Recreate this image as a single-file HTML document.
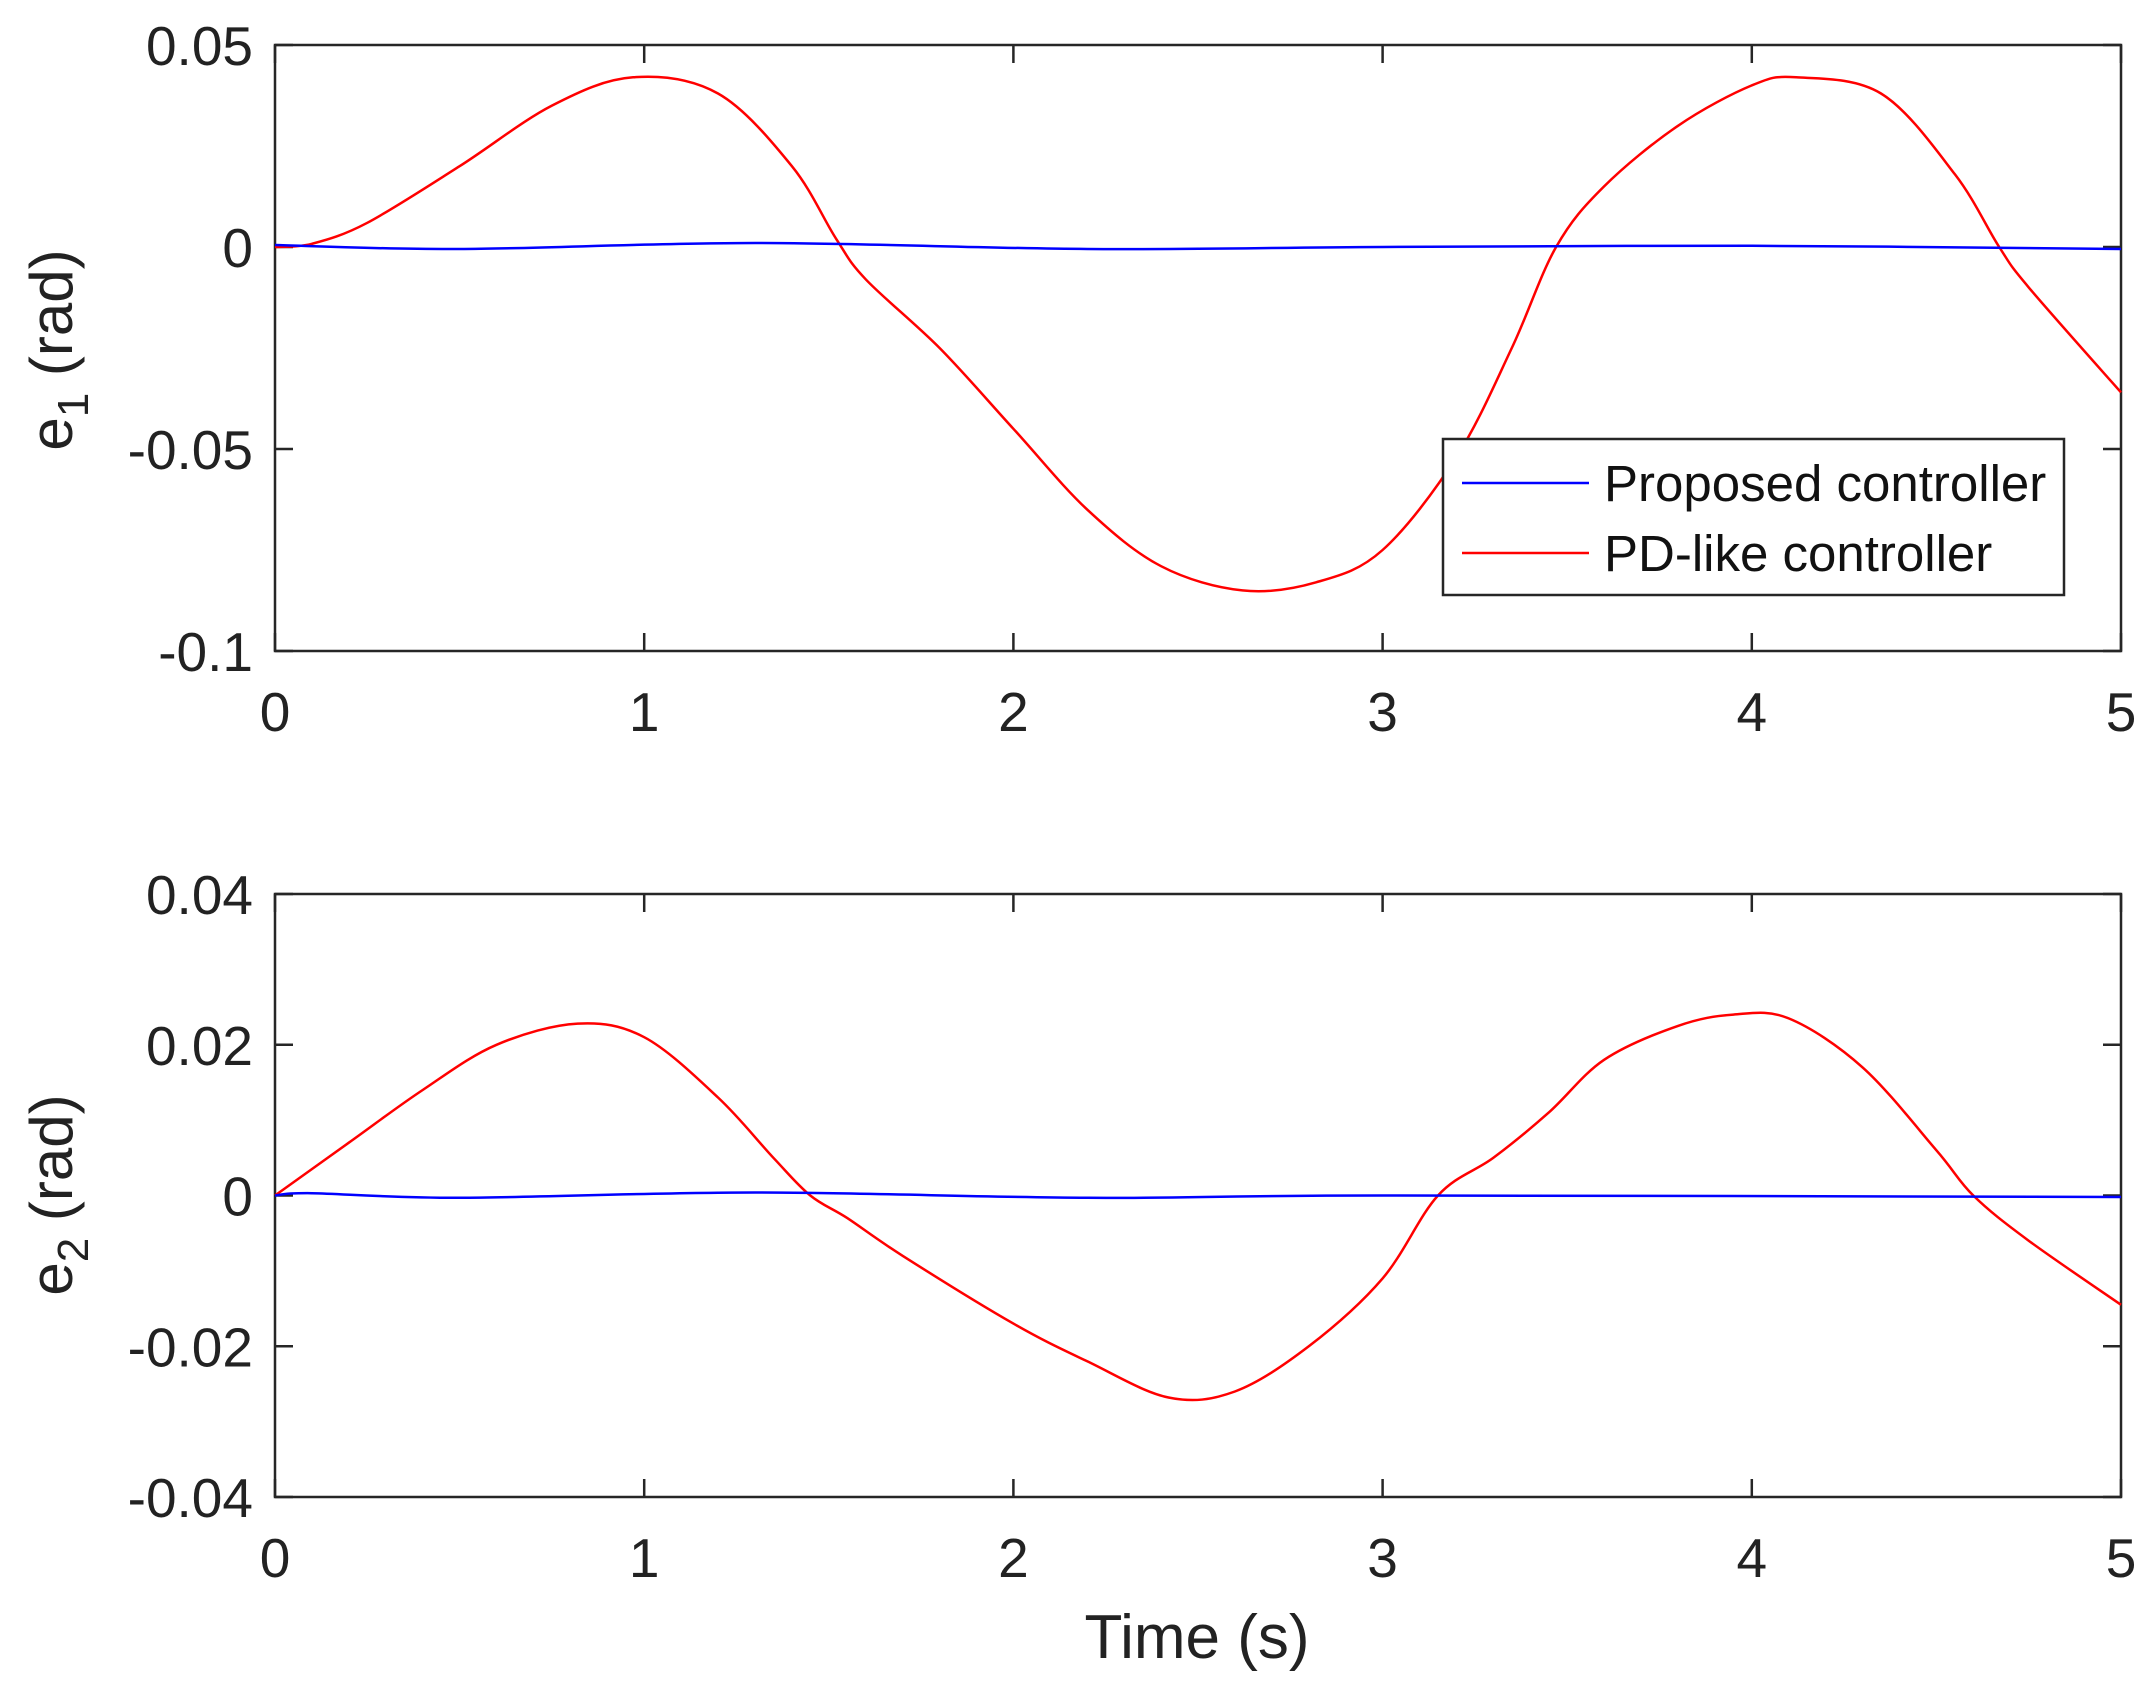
<!DOCTYPE html>
<html><head><meta charset="utf-8"><style>
html,body{margin:0;padding:0;background:#fff;}
svg{display:block;font-family:"Liberation Sans",Arial,sans-serif;}
</style></head><body>
<svg id="s" width="2153" height="1697" viewBox="0 0 2153 1697" xmlns="http://www.w3.org/2000/svg">
<rect width="2153" height="1697" fill="#fff"/>
<g id="g"></g>
</svg>
<script>
const g=document.getElementById('g');
const X0=275,X1=2121;
function xs(t){return X0+(X1-X0)*t/5;}
let h='';
function axes(top,bot,ymax,ymin,yt,ylab,sub,labY){
  const ys=v=>top+(ymax-v)/(ymax-ymin)*(bot-top);
  h+=`<rect x="${X0}" y="${top}" width="${X1-X0}" height="${bot-top}" fill="none" stroke="#262626" stroke-width="2.5"/>`;
  for(let t=0;t<=5;t++){const x=xs(t);
    h+=`<line x1="${x}" y1="${bot}" x2="${x}" y2="${bot-18}" stroke="#262626" stroke-width="2.5"/><line x1="${x}" y1="${top}" x2="${x}" y2="${top+18}" stroke="#262626" stroke-width="2.5"/>`;
    h+=`<text x="${x}" y="${bot+80}" font-size="55" text-anchor="middle" fill="#222">${t}</text>`;}
  yt.forEach(v=>{const y=ys(v);
    h+=`<line x1="${X0}" y1="${y}" x2="${X0+18}" y2="${y}" stroke="#262626" stroke-width="2.5"/><line x1="${X1}" y1="${y}" x2="${X1-18}" y2="${y}" stroke="#262626" stroke-width="2.5"/>`;
    h+=`<text x="${X0-22}" y="${y+20}" font-size="55" text-anchor="end" fill="#222">${v}</text>`;});
  h+=`<text transform="translate(72,${labY}) rotate(-90)" font-size="60" text-anchor="middle" fill="#222">e<tspan font-size="44" dy="16">${sub}</tspan><tspan dy="-16"> (rad)</tspan></text>`;
  return ys;
}
function path(pts,ys,col){
  const P=pts.map(p=>[xs(p[0]),ys(p[1])]);
  let d=`M${P[0][0]},${P[0][1]}`;
  for(let i=0;i<P.length-1;i++){
    const p0=P[Math.max(0,i-1)],p1=P[i],p2=P[i+1],p3=P[Math.min(P.length-1,i+2)];
    const c1=[p1[0]+(p2[0]-p0[0])/6,p1[1]+(p2[1]-p0[1])/6];
    const c2=[p2[0]-(p3[0]-p1[0])/6,p2[1]-(p3[1]-p1[1])/6];
    d+=`C${c1[0].toFixed(1)},${c1[1].toFixed(1)} ${c2[0].toFixed(1)},${c2[1].toFixed(1)} ${p2[0].toFixed(1)},${p2[1].toFixed(1)}`;
  }
  h+=`<path d="${d}" fill="none" stroke="${col}" stroke-width="2.5"/>`;
}
let ys1=axes(45,651,0.05,-0.1,[0.05,0,-0.05,-0.1],'e','1',350);
path([[0,0],[0.1,0.0008],[0.25,0.006],[0.5,0.02],[0.75,0.035],[0.97,0.042],[1.2,0.038],[1.4,0.02],[1.52,0.002],[1.6,-0.008],[1.8,-0.025],[2.0,-0.045],[2.2,-0.065],[2.4,-0.079],[2.62,-0.085],[2.82,-0.083],[3.0,-0.075],[3.2,-0.052],[3.35,-0.025],[3.47,0],[3.6,0.015],[3.8,0.03],[4.0,0.04],[4.12,0.042],[4.35,0.038],[4.55,0.018],[4.67,0],[4.75,-0.01],[5,-0.036]],ys1,'#ff0000');
path([[0,0.0005],[0.5,-0.0005],[1.3,0.001],[2.2,-0.0005],[3,0],[4,0.0003],[5,-0.0005]],ys1,'#0000ff');
let ys2=axes(894,1497,0.04,-0.04,[0.04,0.02,0,-0.02,-0.04],'e','2',1195);
path([[0,0],[0.2,0.007],[0.4,0.014],[0.6,0.02],[0.82,0.0228],[1.0,0.021],[1.2,0.013],[1.35,0.005],[1.45,0],[1.55,-0.003],[1.7,-0.008],[2.0,-0.017],[2.2,-0.022],[2.42,-0.0268],[2.6,-0.026],[2.8,-0.02],[3.0,-0.011],[3.15,0],[3.3,0.005],[3.45,0.011],[3.6,0.018],[3.8,0.0225],[3.95,0.024],[4.1,0.0235],[4.3,0.017],[4.5,0.006],[4.6,0],[4.75,-0.006],[5,-0.0145]],ys2,'#ff0000');
path([[0,0],[0.1,0.0003],[0.5,-0.0003],[1.3,0.0004],[2.2,-0.0003],[3,0],[5,-0.0002]],ys2,'#0000ff');
h+=`<text x="1197" y="1658" font-size="62" text-anchor="middle" fill="#222">Time (s)</text>`;
h+=`<rect x="1443" y="439" width="621" height="156" fill="#fff" stroke="#262626" stroke-width="2.5"/>`;
h+=`<line x1="1462" y1="483" x2="1589" y2="483" stroke="#0000ff" stroke-width="2.5"/><text x="1604" y="501" font-size="51" fill="#111">Proposed controller</text>`;
h+=`<line x1="1462" y1="553" x2="1589" y2="553" stroke="#ff0000" stroke-width="2.5"/><text x="1604" y="571" font-size="51" fill="#111">PD-like controller</text>`;
g.innerHTML=h;
</script>
</body></html>
